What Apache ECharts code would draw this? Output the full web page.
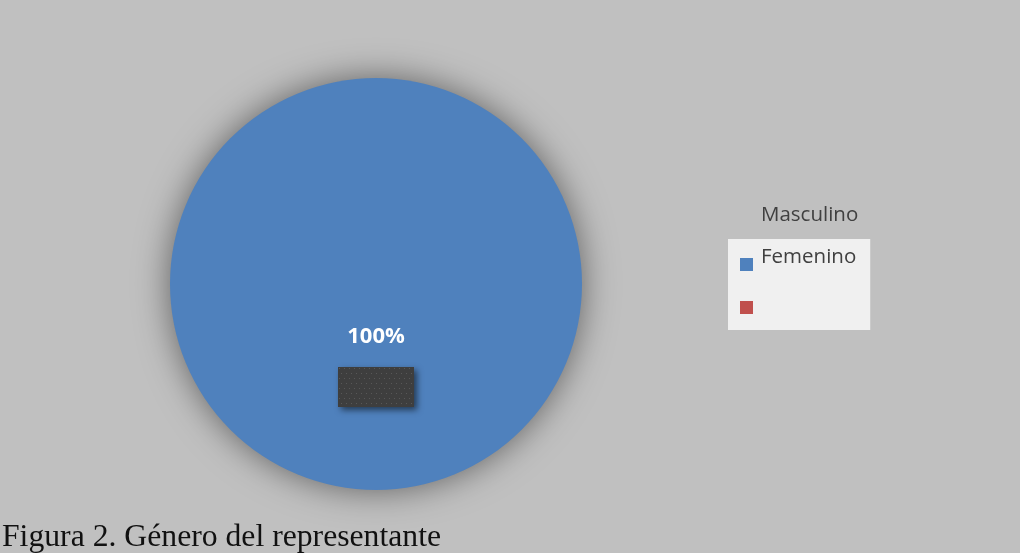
<!DOCTYPE html>
<html>
<head>
<meta charset="utf-8">
<script src="https://cdn.jsdelivr.net/npm/echarts@6/dist/echarts.min.js"></script>
<style>
  html, body { margin: 0; padding: 0; background: #c0c0c0; }
  #chart { width: 1020px; height: 553px; }
</style>
</head>
<body>
<div id="chart"></div>
<script>
// Género del representante
const categories = ['Femenino', 'Masculino'];
const values = [100, 0];
const colors = ['#4f81bd', '#c0504d'];
const headerLabel = 'Masculino';
const caption = 'Figura 2. Género del representante';

// Small textured fill for the dark label plate
function makeTexture(w, h) {
  const c = document.createElement('canvas');
  c.width = w; c.height = h;
  const ctx = c.getContext('2d');
  ctx.fillStyle = '#3e3e3e';
  ctx.fillRect(0, 0, w, h);
  ctx.fillStyle = 'rgba(110,110,110,0.55)';
  for (let y = 1; y < h; y += 5) {
    for (let x = (y % 10 === 1 ? 1 : 3); x < w; x += 5) {
      ctx.fillRect(x, y, 1, 1);
    }
  }
  return c;
}
const texture = makeTexture(76, 40);

const chart = echarts.init(document.getElementById('chart'));
chart.setOption({
  backgroundColor: '#c0c0c0',
  animation: false,
  title: [
    {
      text: headerLabel,
      left: 761, top: 205, padding: 0,
      textStyle: { fontFamily: 'Open Sans', fontSize: 20.5, fontWeight: 'normal', color: '#404040' }
    },
    {
      text: caption,
      left: 2, top: 522, padding: 0,
      textStyle: { fontFamily: 'Liberation Serif', fontSize: 31.7, fontWeight: 'normal', color: '#111' }
    }
  ],
  legend: {
    orient: 'vertical',
    left: 728, top: 239,
    padding: [8, 14, 9, 12],
    backgroundColor: '#f0f0f0',
    itemWidth: 13, itemHeight: 13, itemGap: 12,
    icon: 'rect',
    data: categories,
    formatter: function (name) {
      return name === 'Femenino' ? '{t|' + name + '}' : '{t|}';
    },
    textStyle: {
      width: 99,
      rich: {
        t: { fontFamily: 'Open Sans', fontSize: 20.5, color: '#404040', lineHeight: 13, height: 13, padding: [0, 0, 14, 3] }
      }
    }
  },
  series: [{
    type: 'pie',
    center: [376, 284],
    radius: 206,
    startAngle: 90,
    clockwise: true,
    silent: true,
    stillShowZeroSum: true,
    itemStyle: {
      shadowBlur: 34,
      shadowColor: 'rgba(0,0,0,0.5)'
    },
    labelLine: { show: false },
    data: categories.map(function (name, i) {
      return {
        name: name,
        value: values[i],
        itemStyle: { color: colors[i] },
        label: { show: values[i] > 0 }
      };
    }),
    label: {
      position: 'center',
      padding: [161, 0, 0, 0],
      formatter: function (p) { return '{p|' + p.percent + '%}\n{s|}\n{b|}'; },
      rich: {
        p: { fontFamily: 'Open Sans', fontWeight: 'bold', fontSize: 22, color: '#ffffff', lineHeight: 30, align: 'center' },
        s: { height: 15, lineHeight: 15 },
        b: {
          width: 76, height: 40, align: 'center',
          backgroundColor: { image: texture },
          shadowColor: 'rgba(0,0,0,0.55)', shadowBlur: 6, shadowOffsetX: 3, shadowOffsetY: 3
        }
      }
    }
  }]
});
</script>
</body>
</html>
